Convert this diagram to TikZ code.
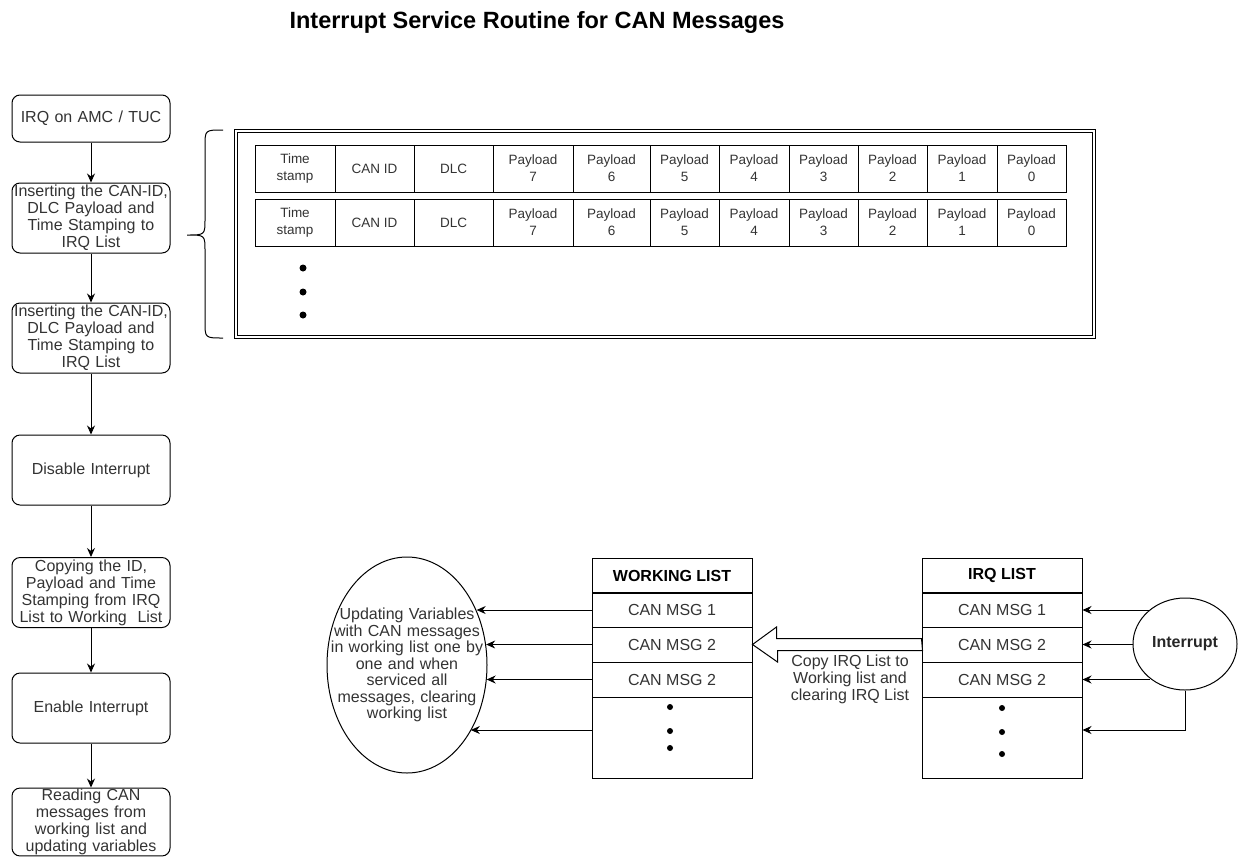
\documentclass[tikz,border=0pt]{standalone}
\usepackage{fontspec}
\setmainfont{Liberation Sans}
\usetikzlibrary{arrows.meta}
\usetikzlibrary{shapes.geometric}

\tikzset{
  flowbox/.style={draw, rounded corners=8pt, line width=1pt, minimum width=158, text width=156, inner sep=1pt, align=center, font=\fontsize{16}{17}\selectfont, text=black!80},
  cell/.style={draw, line width=1pt, inner sep=0pt, minimum height=47, align=center, font=\fontsize{13.5}{17}\selectfont, text=black!80},
  listcell/.style={draw, line width=1pt, minimum width=160, minimum height=35, inner sep=0pt, font=\fontsize{16}{17}\selectfont, text=black!80},
  flowarrow/.style={-{Stealth[length=9pt,width=8pt]}, line width=1pt},
}

\begin{document}
\begin{tikzpicture}[x=1pt, y=-1pt]
\useasboundingbox (0,0) rectangle (1238,857);

\node[anchor=base, font=\fontsize{23.5}{26}\selectfont\bfseries] (title) at (537,28) {Interrupt Service Routine for CAN Messages};

\node[flowbox, minimum height=47] (irq) at (91,118.5) {IRQ on AMC / TUC};
\node[flowbox, minimum height=70] (ins1) at (91,218) {Inserting the CAN-ID,\\DLC Payload and\\Time Stamping to\\IRQ List};
\node[flowbox, minimum height=70] (ins2) at (91,338) {Inserting the CAN-ID,\\DLC Payload and\\Time Stamping to\\IRQ List};
\node[flowbox, minimum height=70] (dis) at (91,470) {Disable Interrupt};
\node[flowbox, minimum height=70] (copy) at (91,592.5) {Copying the ID,\\Payload and Time\\Stamping from IRQ\\List to Working~ List};
\node[flowbox, minimum height=70] (en) at (91,708) {Enable Interrupt};
\node[flowbox, minimum height=66] (read) at (91,822) {Reading CAN\\messages from\\working list and\\updating variables};

\draw[flowarrow] (irq) -- (ins1);
\draw[flowarrow] (ins1) -- (ins2);
\draw[flowarrow] (ins2) -- (dis);
\draw[flowarrow] (dis) -- (copy);
\draw[flowarrow] (copy) -- (en);
\draw[flowarrow] (en) -- (read);

\node[draw, double, double distance=2pt, line width=0.8pt, minimum width=858, minimum height=206, inner sep=0pt] (frame) at (665,234) {};
\draw[line width=1pt] (223,130) .. controls (205,130) .. (205,146) -- (205,219) .. controls (205,235) .. (187,235)
  .. controls (205,235) .. (205,251) -- (205,322) .. controls (205,338) .. (223,338);

\node[cell, minimum width=80] (ra1) at (295,168.5) {Time\\stamp};
\node[cell, minimum width=79] (ra2) at (374.5,168.5) {CAN ID};
\node[cell, minimum width=79] (ra3) at (453.5,168.5) {DLC};
\node[cell, minimum width=80] (ra4) at (533,168.5) {Payload\\7};
\node[cell, minimum width=77] (ra5) at (611.5,168.5) {Payload\\6};
\node[cell, minimum width=69] (ra6) at (684.5,168.5) {Payload\\5};
\node[cell, minimum width=70] (ra7) at (754,168.5) {Payload\\4};
\node[cell, minimum width=69] (ra8) at (823.5,168.5) {Payload\\3};
\node[cell, minimum width=69] (ra9) at (892.5,168.5) {Payload\\2};
\node[cell, minimum width=70] (ra10) at (962,168.5) {Payload\\1};
\node[cell, minimum width=69] (ra11) at (1031.5,168.5) {Payload\\0};

\node[cell, minimum width=80] (rb1) at (295,222.5) {Time\\stamp};
\node[cell, minimum width=79] (rb2) at (374.5,222.5) {CAN ID};
\node[cell, minimum width=79] (rb3) at (453.5,222.5) {DLC};
\node[cell, minimum width=80] (rb4) at (533,222.5) {Payload\\7};
\node[cell, minimum width=77] (rb5) at (611.5,222.5) {Payload\\6};
\node[cell, minimum width=69] (rb6) at (684.5,222.5) {Payload\\5};
\node[cell, minimum width=70] (rb7) at (754,222.5) {Payload\\4};
\node[cell, minimum width=69] (rb8) at (823.5,222.5) {Payload\\3};
\node[cell, minimum width=69] (rb9) at (892.5,222.5) {Payload\\2};
\node[cell, minimum width=70] (rb10) at (962,222.5) {Payload\\1};
\node[cell, minimum width=69] (rb11) at (1031.5,222.5) {Payload\\0};

\fill (303,268) circle (3.5pt);
\fill (303,292) circle (3.5pt);
\fill (303,315) circle (3.5pt);

\node[listcell, font=\fontsize{16}{17}\selectfont\bfseries, text=black] (wh) at (672,575.5) {WORKING LIST};
\node[listcell] (w1) at (672,610) {CAN MSG 1};
\node[listcell] (w2) at (672,644.5) {CAN MSG 2};
\node[listcell] (w3) at (672,679.5) {CAN MSG 2};
\node[listcell, minimum height=81] (w4) at (672,737.5) {};
\fill (670,707) circle (3pt);
\fill (670,731) circle (3pt);
\fill (670,748) circle (3pt);

\node[listcell, font=\fontsize{16}{17}\selectfont\bfseries, text=black] (ih) at (1002,575.5) {IRQ LIST};
\node[listcell] (i1) at (1002,610) {CAN MSG 1};
\node[listcell] (i2) at (1002,644.5) {CAN MSG 2};
\node[listcell] (i3) at (1002,679.5) {CAN MSG 2};
\node[listcell, minimum height=81] (i4) at (1002,737.5) {};
\fill (1002,708) circle (3pt);
\fill (1002,732) circle (3pt);
\fill (1002,754) circle (3pt);

\node[draw, ellipse, line width=1pt, minimum width=160, minimum height=216, inner sep=0pt] (upd) at (407,665) {};
\node[text width=156, align=center, font=\fontsize{16}{16.5}\selectfont, text=black!80] (updtext) at (upd.center) {Updating Variables\\with CAN messages\\in working list one by\\one and when\\serviced all\\messages, clearing\\working list};

\coordinate (w4in) at ([yshift=7.5pt]w4.west);
\draw[flowarrow] (w1.west) -- (upd.38.6 |- w1.west);
\draw[flowarrow] (w2.west) -- (upd.14.6 |- w2.west);
\draw[flowarrow] (w3.west) -- (upd.349.6 |- w3.west);
\draw[flowarrow] (w4in) -- (upd.314.5 |- w4in);

\node[draw, ellipse, line width=1pt, minimum width=104, minimum height=92, inner sep=0pt, font=\fontsize{16}{17}\selectfont\bfseries, text=black!85] (int) at (1185,644) {Interrupt};

\coordinate (i4in) at ([yshift=7.5pt]i4.east);
\draw[flowarrow] (int.135.8 |- i1.east) -- (i1.east);
\draw[flowarrow] (int.west |- i2.east) -- (i2.east);
\draw[flowarrow] (int.224.2 |- i3.east) -- (i3.east);
\draw[flowarrow] (int.south) |- (i4in);

\draw[line width=1pt, fill=white] ([yshift=6pt]i2.west) -- ++(-145,0) -- ++(0,-11.5) -- (w2.east) -- ++(25,17.5) -- ++(0,-11.5) -- ++(145,0) -- cycle;
\node[align=center, font=\fontsize{16}{17}\selectfont, text=black!80] (copytxt) at (850,679) {Copy IRQ List to\\Working list and\\clearing IRQ List};

\end{tikzpicture}
\end{document}
